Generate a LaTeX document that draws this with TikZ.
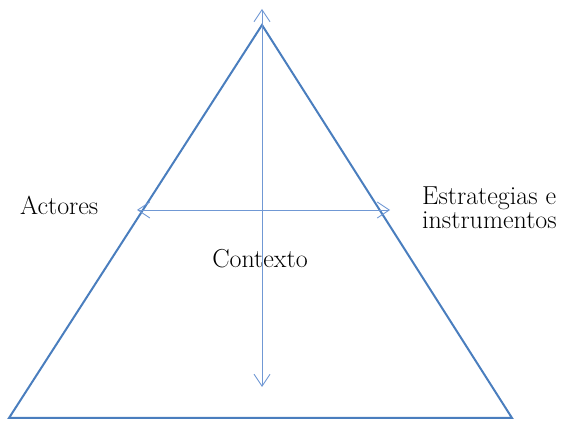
\documentclass[tikz,border=0pt]{standalone}
\usetikzlibrary{arrows.meta}

\definecolor{sideblue}{RGB}{74,126,190}
\definecolor{axisblue}{RGB}{112,152,212}

\tikzset{
  side/.style={draw=sideblue, line width=2pt, line join=miter},
  axis/.style={draw=axisblue, line width=0.9pt,
    {Straight Barb[length=12pt,width=16pt]}-{Straight Barb[length=12pt,width=16pt]}},
  tag/.style={inner sep=0pt, font=\fontsize{26}{24}\selectfont}
}

\begin{document}
\begin{tikzpicture}[x=1pt, y=-1pt]

  \useasboundingbox (0, 0) rectangle (571, 422);

  % triangle
  \coordinate (apex) at (262, 25);
  \coordinate (base-l) at (9, 418);
  \coordinate (base-r) at (512, 418);
  \draw[side] (apex) -- (base-r) -- (base-l) -- cycle;

  % arrows
  \coordinate (up) at (262, 9);
  \coordinate (down) at (262, 387);
  \coordinate (west) at (137, 210);
  \coordinate (east) at (390, 210);
  \draw[axis] (down) -- (up);
  \draw[axis] (west) -- (east);

  % texts
  \node[tag, anchor=base west] (actores) at (20, 215) {Actores};
  \node[tag, anchor=base west, align=left] (estrategias) at (422, 229)
    {Estrategias e\\instrumentos};
  \node[tag, anchor=base] (contexto) at (260, 268) {Contexto};

\end{tikzpicture}
\end{document}
